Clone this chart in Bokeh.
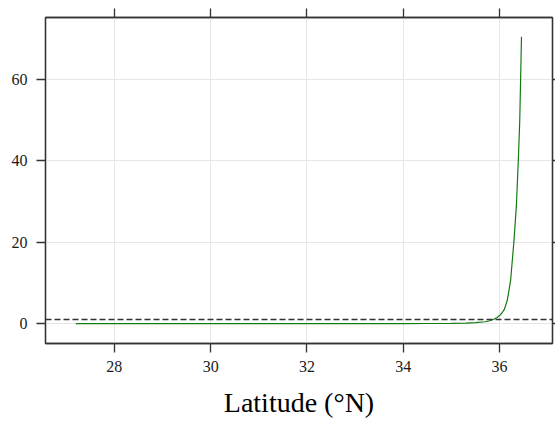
from bokeh.plotting import figure
from bokeh.models import Range1d, FixedTicker, LinearAxis, Span, CustomJSTickFormatter
from bokeh.embed import file_html
from bokeh.resources import INLINE

latitude = [27.2, 28.0, 29.0, 30.0, 31.0, 32.0, 33.0, 34.0, 34.5, 35.0, 35.3, 35.5,
            35.7, 35.8, 35.88, 35.95, 36.0, 36.05, 36.1, 36.16, 36.23, 36.3, 36.35,
            36.39, 36.42, 36.456]
value = [0.0, 0.0, 0.0, 0.0, 0.0, 0.0, 0.0, 0.01, 0.02, 0.05, 0.12, 0.22,
         0.45, 0.7, 1.06, 1.5, 1.97, 2.6, 3.5, 5.66, 10.6, 20.4, 29.0,
         40.1, 50.0, 70.5]
threshold = 1.0
x_ticks = [28, 30, 32, 34, 36]
y_ticks = [0, 20, 40, 60]
x_label = "Latitude (°N)"

FONT = "Liberation Serif"
AX = "#333333"

p = figure(width=555, height=423, output_backend="svg", toolbar_location=None,
           x_range=Range1d(26.57, 37.10), y_range=Range1d(-4.9, 75.25),
           x_axis_location=None, y_axis_location=None,
           min_border_left=45, min_border_right=3, min_border_top=17, min_border_bottom=80)
p.outline_line_color = AX
p.outline_line_width = 1.3
p.background_fill_color = "white"
p.border_fill_color = "white"

def style(ax, ticks, labels=True, tick_out=9, standoff=9):
    ax.ticker = FixedTicker(ticks=ticks)
    ax.axis_line_color = AX
    ax.axis_line_width = 1.3
    ax.major_tick_line_color = AX
    ax.major_tick_line_width = 1.3
    ax.major_tick_in = 0
    ax.major_tick_out = tick_out
    ax.minor_tick_line_color = None
    ax.major_label_text_font = FONT
    ax.major_label_text_color = "#1a1a1a"
    ax.major_label_text_font_size = "16px"
    if labels:
        ax.major_label_standoff = standoff
    else:
        ax.formatter = CustomJSTickFormatter(code="return ''")
        ax.major_label_standoff = 0

bottom = LinearAxis()
style(bottom, x_ticks, standoff=8)
bottom.axis_label = x_label
bottom.axis_label_text_font = FONT
bottom.axis_label_text_font_size = "28px"
bottom.axis_label_text_font_style = "normal"
bottom.axis_label_text_color = "black"
bottom.axis_label_standoff = 12
p.add_layout(bottom, "below")

left = LinearAxis()
style(left, y_ticks, standoff=9)
p.add_layout(left, "left")

top = LinearAxis()
style(top, x_ticks, labels=False, tick_out=9)
p.add_layout(top, "above")

right = LinearAxis()
style(right, y_ticks, labels=False, tick_out=3)
p.add_layout(right, "right")

p.xgrid.ticker = FixedTicker(ticks=x_ticks)
p.ygrid.ticker = FixedTicker(ticks=y_ticks)
p.xgrid.grid_line_color = "#e6e6e6"
p.ygrid.grid_line_color = "#e6e6e6"

p.add_layout(Span(location=threshold, dimension="width", line_color="#333333",
                  line_width=1.3, line_dash="6 3"))
p.line(latitude, value, line_color="#137a13", line_width=1.2)

open("out.html", "w").write(file_html(p, INLINE))
